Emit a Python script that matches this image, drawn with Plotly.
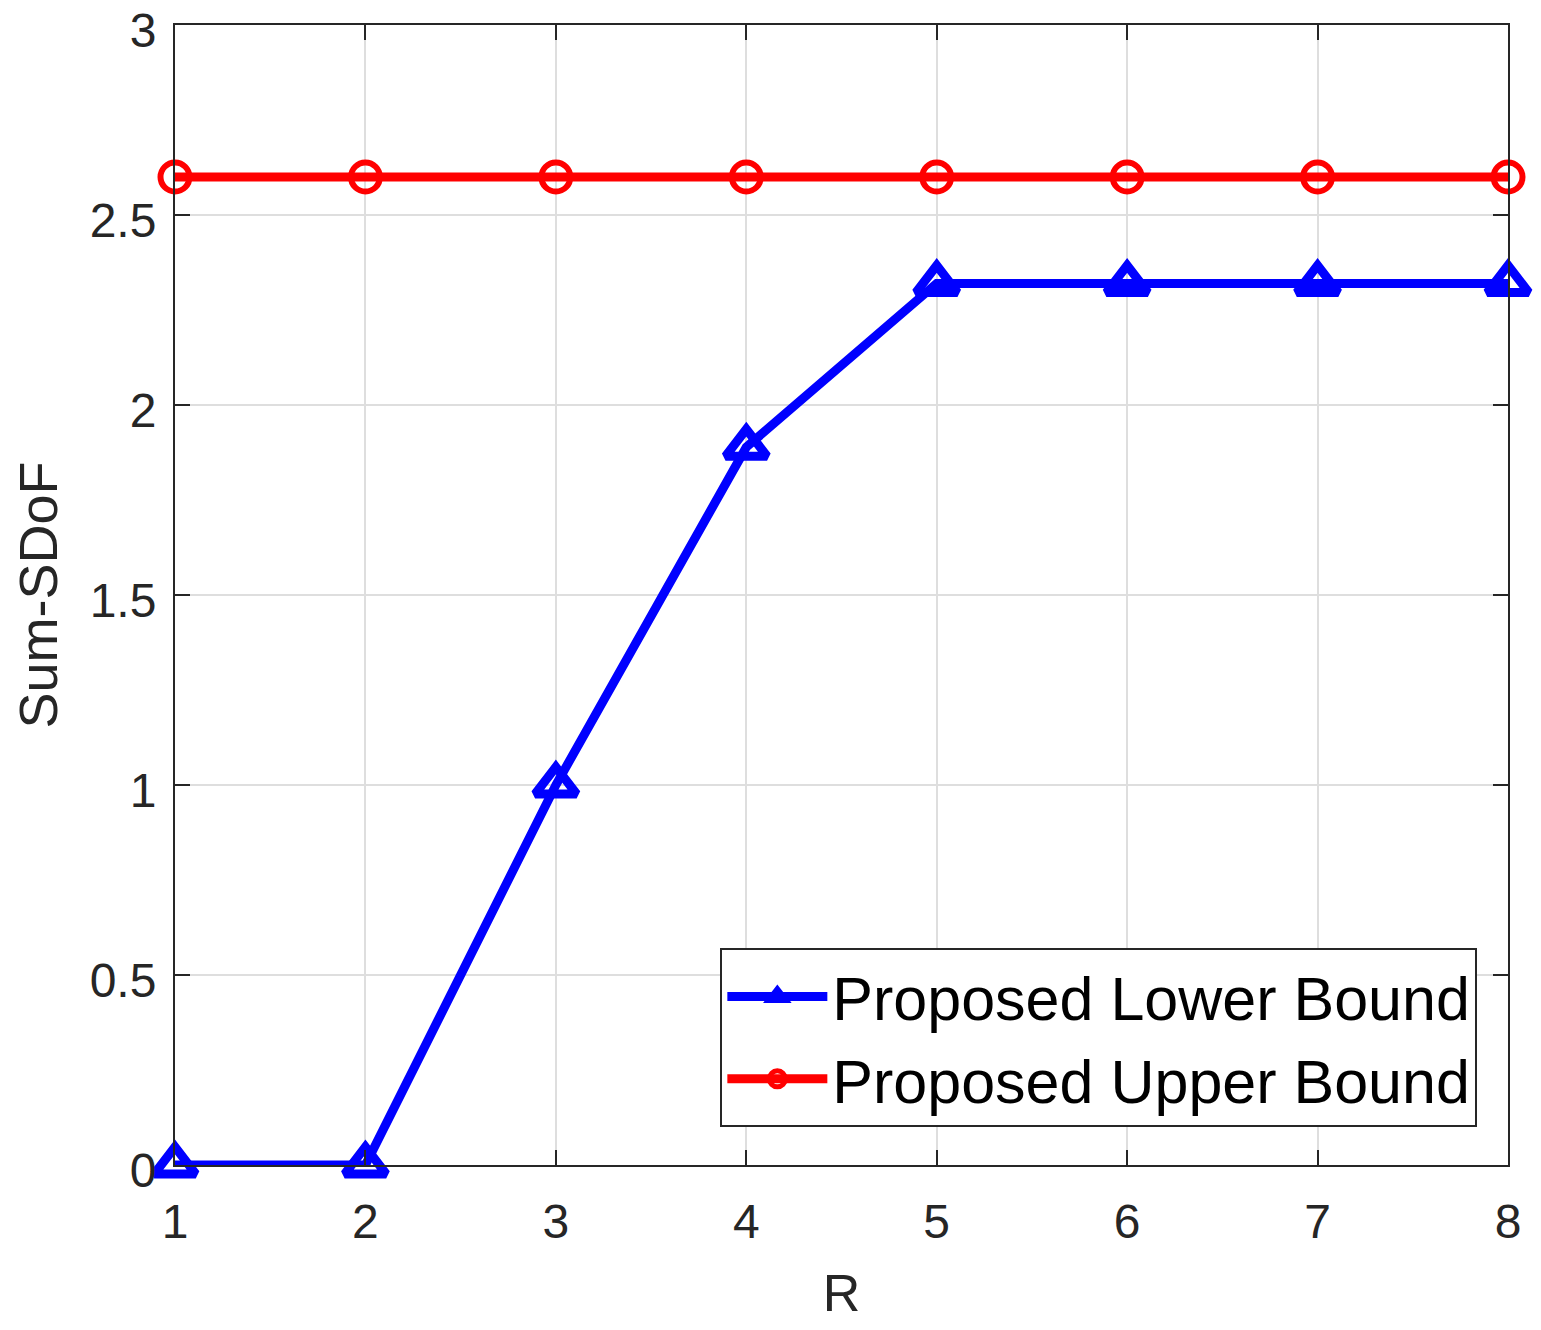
import plotly.graph_objects as go

R = [1, 2, 3, 4, 5, 6, 7, 8]
lower_bound = [0, 0, 1, 1.889, 2.32, 2.32, 2.32, 2.32]
upper_bound = [2.6, 2.6, 2.6, 2.6, 2.6, 2.6, 2.6, 2.6]

font = "Liberation Sans, Arial, Helvetica, sans-serif"
ink = "#262626"

fig = go.Figure()
fig.add_trace(go.Scatter(
    x=R, y=lower_bound, mode="lines+markers", name="Proposed Lower Bound",
    line=dict(color="#0000ff", width=9),
    marker=dict(symbol="triangle-up-open", size=36, color="#0000ff",
                line=dict(width=9, color="#0000ff")),
    cliponaxis=False,
))
fig.add_trace(go.Scatter(
    x=R, y=upper_bound, mode="lines+markers", name="Proposed Upper Bound",
    line=dict(color="#ff0000", width=9),
    marker=dict(symbol="circle-open", size=29, color="#ff0000",
                line=dict(width=6, color="#ff0000")),
    cliponaxis=False,
))

axis_common = dict(
    showline=True, linecolor=ink, linewidth=2, mirror="allticks",
    ticks="inside", ticklen=15, tickwidth=2, tickcolor=ink,
    showgrid=True, gridcolor="#dedede", gridwidth=2, zeroline=False,
    automargin=False, ticklabeloverflow="allow",
    tickfont=dict(size=48, color=ink, family=font),
)

fig.update_xaxes(range=[1, 8], tickvals=R, ticklabelstandoff=13,
                 title=dict(text="R", font=dict(size=52, color=ink, family=font), standoff=28),
                 **axis_common)
fig.update_yaxes(range=[0, 3], tickvals=[0, 0.5, 1, 1.5, 2, 2.5, 3],
                 ticktext=["0", "0.5", "1", "1.5", "2", "2.5", "3"],
                 ticklabelstandoff=7, ticklabelshift=5,
                 title=dict(text="Sum-SDoF", font=dict(size=54, color=ink, family=font), standoff=28),
                 **axis_common)

# page body has an 8px default margin, so offset left/top by 8
fig.update_layout(
    width=1541, height=1330,
    margin=dict(l=167, r=41, t=17, b=173),
    plot_bgcolor="white", paper_bgcolor="white",
    font=dict(family=font, color="#000000"),
    legend=dict(
        x=0.977, y=0.033, xanchor="right", yanchor="bottom",
        bgcolor="white", bordercolor=ink, borderwidth=2,
        font=dict(size=61, color="#000000", family=font),
        itemwidth=100, tracegroupgap=0,
    ),
    showlegend=True,
)

fig.write_html("out.html")
